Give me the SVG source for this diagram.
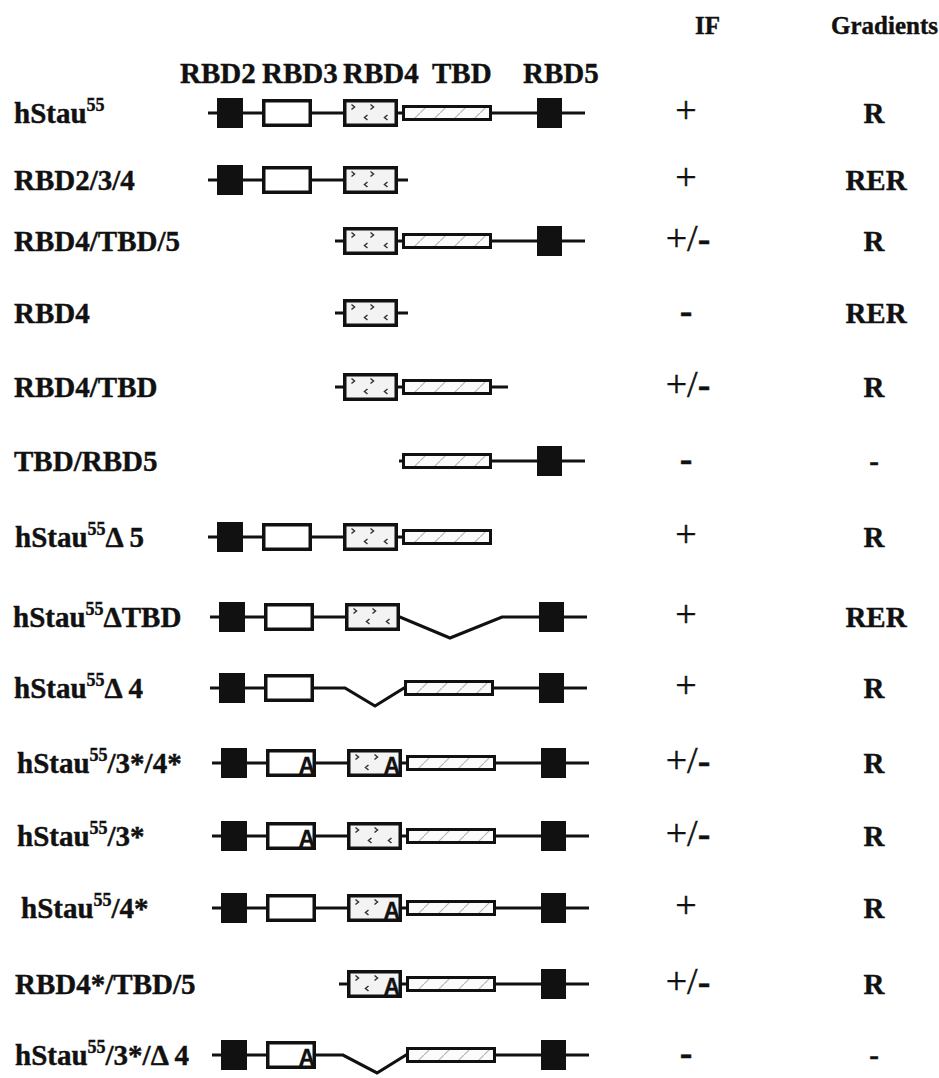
<svg xmlns="http://www.w3.org/2000/svg" width="939" height="1078" viewBox="0 0 939 1078">
<style>
.ln{stroke:#111;stroke-width:3.2;fill:none;stroke-linejoin:miter}
.blk{fill:#111}
.wb{fill:#fff;stroke:#111;stroke-width:3.5}
.r4{fill:#f3f3f3;stroke:#111;stroke-width:3.5}
.tbd{fill:url(#hatch);stroke:#111;stroke-width:3}
.mk{fill:none;stroke:#333;stroke-width:1.5}
text{font-family:"Liberation Serif","Times New Roman",serif;font-weight:bold;fill:#111;stroke:#111;stroke-width:0.4}
.lbl{font-size:29px}
.hdr{font-size:29px}
.top{font-size:25px}
.sup{font-size:18px}
.if{font-size:38px;text-anchor:middle;font-weight:normal}
.b{font-weight:bold}
.gr{font-size:29px;text-anchor:middle}
text.A{font-family:"Liberation Sans",Arial,sans-serif;font-weight:bold;font-size:23px;text-anchor:end;stroke-width:0.3}
</style>
<defs>
<pattern id="hatch" patternUnits="userSpaceOnUse" width="20" height="20">
<rect width="20" height="20" fill="#fbfbfb"/>
<path d="M0,20 L20,0" stroke="#b5b5b5" stroke-width="1.2"/>
</pattern>
<g id="b1"><rect class="blk" x="217" y="-15" width="26" height="30"/></g>
<g id="w3"><rect class="wb" x="263.75" y="-12.25" width="46.5" height="24.5"/></g>
<g id="w3A"><rect class="wb" x="263.75" y="-12.25" width="46.5" height="24.5"/><text class="A" x="311" y="11">A</text></g>
<g id="r4"><rect class="r4" x="344.75" y="-12.25" width="51.5" height="24.5"/><path class="mk" d="M351.5,-8.5 l3,2.5 l-3,2.5 M370.5,-8.5 l3,2.5 l-3,2.5 M367.5,2 l-3,2.5 l3,2.5 M387.5,2 l-3,2.5 l3,2.5"/></g>
<g id="r4A"><rect class="r4" x="344.75" y="-12.25" width="51.5" height="24.5"/><path class="mk" d="M351.5,-8.5 l3,2.5 l-3,2.5 M370.5,-8.5 l3,2.5 l-3,2.5 M364.5,2 l-3,2.5 l3,2.5"/><text class="A" x="396" y="11">A</text></g>
<g id="tb"><rect class="tbd" x="403.5" y="-6.5" width="87" height="13"/></g>
<g id="b5"><rect class="blk" x="537" y="-15" width="25" height="30"/></g>
</defs>

<g id="headers">
<text class="top" x="695" y="34">IF</text>
<text class="top" x="831" y="34">Gradients</text>
<text class="hdr" x="180" y="83">RBD2</text>
<text class="hdr" x="262" y="83">RBD3</text>
<text class="hdr" x="343" y="83">RBD4</text>
<text class="hdr" x="432" y="83">TBD</text>
<text class="hdr" x="523" y="83">RBD5</text>
</g>

<g id="row1">
<text class="lbl" x="14" y="123">hStau<tspan class="sup" dy="-12">55</tspan></text>
<g transform="translate(0,113)"><path class="ln" d="M208,0 H585"/><use href="#b1"/><use href="#w3"/><use href="#r4"/><use href="#tb"/><use href="#b5"/></g>
<text class="if" x="686" y="123">+</text><text class="gr" x="874" y="123">R</text>
</g>

<g id="row2">
<text class="lbl" x="14" y="190">RBD2/3/4</text>
<g transform="translate(0,180)"><path class="ln" d="M208,0 H408"/><use href="#b1"/><use href="#w3"/><use href="#r4"/></g>
<text class="if" x="686" y="190">+</text><text class="gr" x="876" y="190">RER</text>
</g>

<g id="row3">
<text class="lbl" x="14" y="251">RBD4/TBD/5</text>
<g transform="translate(0,241)"><path class="ln" d="M335,0 H585"/><use href="#r4"/><use href="#tb"/><use href="#b5"/></g>
<text class="if" x="688" y="251">+/<tspan class="b">-</tspan></text><text class="gr" x="874" y="251">R</text>
</g>

<g id="row4">
<text class="lbl" x="14" y="323">RBD4</text>
<g transform="translate(0,313)"><path class="ln" d="M335,0 H408"/><use href="#r4"/></g>
<text class="if b" x="686" y="323">-</text><text class="gr" x="876" y="323">RER</text>
</g>

<g id="row5">
<text class="lbl" x="14" y="397">RBD4/TBD</text>
<g transform="translate(0,387)"><path class="ln" d="M335,0 H508"/><use href="#r4"/><use href="#tb"/></g>
<text class="if" x="688" y="397">+/<tspan class="b">-</tspan></text><text class="gr" x="874" y="397">R</text>
</g>

<g id="row6">
<text class="lbl" x="14" y="471">TBD/RBD5</text>
<g transform="translate(0,461)"><path class="ln" d="M399,0 H585"/><use href="#tb"/><use href="#b5"/></g>
<text class="if b" x="686" y="471">-</text><text class="gr" x="874" y="471">-</text>
</g>

<g id="row7">
<text class="lbl" x="15" y="547">hStau<tspan class="sup" dy="-12">55</tspan><tspan dy="12">Δ 5</tspan></text>
<g transform="translate(0,537)"><path class="ln" d="M208,0 H492"/><use href="#b1"/><use href="#w3"/><use href="#r4"/><use href="#tb"/></g>
<text class="if" x="686" y="547">+</text><text class="gr" x="874" y="547">R</text>
</g>

<g id="row8">
<text class="lbl" x="13" y="627">hStau<tspan class="sup" dy="-12">55</tspan><tspan dy="12">ΔTBD</tspan></text>
<g transform="translate(2,617)"><path class="ln" d="M208,0 H398 L448,21 L500,0 H585"/><use href="#b1"/><use href="#w3"/><use href="#r4"/><use href="#b5"/></g>
<text class="if" x="686" y="627">+</text><text class="gr" x="876" y="627">RER</text>
</g>

<g id="row9">
<text class="lbl" x="14" y="698">hStau<tspan class="sup" dy="-12">55</tspan><tspan dy="12">Δ 4</tspan></text>
<g transform="translate(2,688)"><path class="ln" d="M208,0 H343 L373,18 L402,0 H585"/><use href="#b1"/><use href="#w3"/><use href="#tb"/><use href="#b5"/></g>
<text class="if" x="686" y="698">+</text><text class="gr" x="874" y="698">R</text>
</g>

<g id="row10">
<text class="lbl" x="17" y="773">hStau<tspan class="sup" dy="-12">55</tspan><tspan dy="12">/3*/4*</tspan></text>
<g transform="translate(4,763)"><path class="ln" d="M208,0 H585"/><use href="#b1"/><use href="#w3A"/><use href="#r4A"/><use href="#tb"/><use href="#b5"/></g>
<text class="if" x="688" y="773">+/<tspan class="b">-</tspan></text><text class="gr" x="874" y="773">R</text>
</g>

<g id="row11">
<text class="lbl" x="17" y="846">hStau<tspan class="sup" dy="-12">55</tspan><tspan dy="12">/3*</tspan></text>
<g transform="translate(4,836)"><path class="ln" d="M208,0 H585"/><use href="#b1"/><use href="#w3A"/><use href="#r4"/><use href="#tb"/><use href="#b5"/></g>
<text class="if" x="688" y="846">+/<tspan class="b">-</tspan></text><text class="gr" x="874" y="846">R</text>
</g>

<g id="row12">
<text class="lbl" x="21" y="918">hStau<tspan class="sup" dy="-12">55</tspan><tspan dy="12">/4*</tspan></text>
<g transform="translate(4,908)"><path class="ln" d="M208,0 H585"/><use href="#b1"/><use href="#w3"/><use href="#r4A"/><use href="#tb"/><use href="#b5"/></g>
<text class="if" x="686" y="918">+</text><text class="gr" x="874" y="918">R</text>
</g>

<g id="row13">
<text class="lbl" x="15" y="994">RBD4*/TBD/5</text>
<g transform="translate(4,984)"><path class="ln" d="M335,0 H585"/><use href="#r4A"/><use href="#tb"/><use href="#b5"/></g>
<text class="if" x="688" y="994">+/<tspan class="b">-</tspan></text><text class="gr" x="874" y="994">R</text>
</g>

<g id="row14">
<text class="lbl" x="15" y="1065">hStau<tspan class="sup" dy="-12">55</tspan><tspan dy="12">/3*/Δ 4</tspan></text>
<g transform="translate(4,1055)"><path class="ln" d="M208,0 H339 L373,18 L402,0 H585"/><use href="#b1"/><use href="#w3A"/><use href="#tb"/><use href="#b5"/></g>
<text class="if b" x="686" y="1065">-</text><text class="gr" x="874" y="1065">-</text>
</g>
</svg>
